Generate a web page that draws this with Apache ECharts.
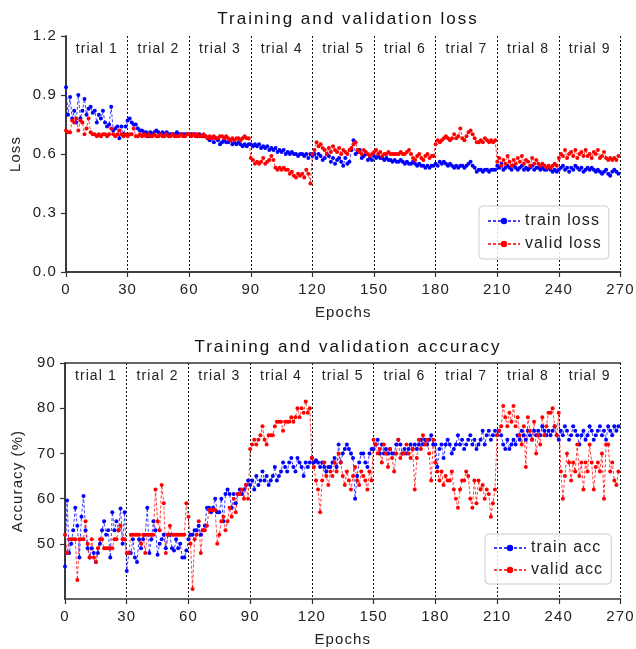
<!DOCTYPE html>
<html>
<head>
<meta charset="utf-8">
<script src="https://cdn.jsdelivr.net/npm/echarts@6/dist/echarts.min.js"></script>
<style>html,body{margin:0;padding:0;background:#fff}#c{width:636px;height:649px}</style>
</head>
<body>
<div id="c"></div>
<script>
const trialLabels = ["trial 1","trial 2","trial 3","trial 4","trial 5","trial 6","trial 7","trial 8","trial 9"];
const trialCenters = [15,45,75,105,135,165,195,225,255];
const lossTicks = [0, 0.3, 0.6, 0.9, 1.2];
const accTicks = [50, 60, 70, 80, 90];

const trainLoss = [].concat(
[0.94,0.80,0.89,0.78,0.82,0.76,0.90,0.78,0.82,0.88,0.80,0.83,0.84,0.81,0.82,0.76,0.80,0.78,0.82,0.76,0.74,0.75,0.84,0.72,0.73,0.74,0.68,0.74,0.70,0.74],
[0.77,0.78,0.76,0.75,0.75,0.73,0.72,0.72,0.71,0.71,0.69,0.71,0.70,0.71,0.72,0.71,0.70,0.71,0.70,0.71,0.70,0.70,0.70,0.70,0.71,0.70,0.70,0.70,0.70,0.70],
[0.70,0.70,0.70,0.70,0.69,0.70,0.69,0.69,0.69,0.68,0.67,0.68,0.66,0.68,0.67,0.65,0.66,0.67,0.66,0.66,0.67,0.65,0.66,0.65,0.66,0.65,0.64,0.65,0.64,0.65],
[0.65,0.64,0.65,0.64,0.65,0.63,0.64,0.63,0.64,0.62,0.63,0.62,0.63,0.61,0.62,0.61,0.62,0.60,0.61,0.60,0.61,0.60,0.60,0.59,0.60,0.60,0.59,0.60,0.58,0.60],
[0.59,0.60,0.58,0.60,0.59,0.57,0.58,0.60,0.59,0.56,0.58,0.55,0.57,0.58,0.56,0.54,0.58,0.55,0.56,0.62,0.67,0.60,0.61,0.62,0.58,0.59,0.60,0.57,0.58,0.57],
[0.59,0.58,0.59,0.58,0.58,0.57,0.58,0.57,0.57,0.56,0.57,0.56,0.56,0.57,0.56,0.55,0.56,0.55,0.55,0.56,0.55,0.54,0.55,0.54,0.54,0.53,0.54,0.53,0.54,0.54],
[0.55,0.54,0.56,0.55,0.56,0.55,0.54,0.55,0.54,0.53,0.54,0.53,0.54,0.54,0.53,0.54,0.55,0.56,0.54,0.53,0.51,0.52,0.52,0.51,0.52,0.52,0.51,0.52,0.52,0.52],
[0.54,0.53,0.55,0.52,0.53,0.54,0.53,0.52,0.54,0.53,0.52,0.53,0.54,0.52,0.53,0.52,0.53,0.54,0.52,0.53,0.53,0.52,0.53,0.52,0.52,0.53,0.52,0.51,0.52,0.51],
[0.52,0.53,0.54,0.52,0.53,0.51,0.53,0.52,0.54,0.53,0.52,0.53,0.51,0.52,0.53,0.52,0.53,0.52,0.51,0.52,0.51,0.50,0.51,0.52,0.50,0.49,0.51,0.52,0.51,0.50]
);
const validLoss = [].concat(
[0.72,0.71,0.71,0.77,0.76,0.78,0.72,0.77,0.76,0.70,0.73,0.78,0.71,0.70,0.70,0.69,0.70,0.69,0.70,0.70,0.69,0.70,0.73,0.70,0.69,0.70,0.72,0.70,0.69,0.70],
[0.69,0.70,0.70,0.73,0.69,0.69,0.70,0.69,0.70,0.69,0.70,0.69,0.69,0.70,0.69,0.69,0.70,0.69,0.69,0.70,0.69,0.69,0.70,0.69,0.69,0.69,0.70,0.69,0.69,0.70],
[0.70,0.69,0.70,0.69,0.70,0.69,0.69,0.70,0.69,0.68,0.69,0.68,0.69,0.68,0.68,0.69,0.69,0.68,0.69,0.68,0.67,0.68,0.67,0.68,0.68,0.67,0.68,0.69,0.68,0.68],
[0.58,0.57,0.55,0.56,0.55,0.56,0.58,0.55,0.56,0.57,0.59,0.57,0.53,0.52,0.53,0.52,0.53,0.52,0.52,0.50,0.51,0.49,0.48,0.50,0.49,0.50,0.48,0.52,0.50,0.45],
[0.60,0.62,0.66,0.64,0.65,0.63,0.62,0.60,0.63,0.61,0.64,0.62,0.61,0.63,0.60,0.62,0.61,0.60,0.62,0.63,0.65,0.66,0.62,0.61,0.60,0.62,0.61,0.60,0.59,0.60],
[0.61,0.62,0.60,0.61,0.59,0.60,0.60,0.61,0.60,0.60,0.60,0.60,0.60,0.61,0.60,0.60,0.61,0.62,0.60,0.58,0.57,0.59,0.60,0.58,0.57,0.59,0.60,0.58,0.59,0.59],
[0.65,0.67,0.66,0.67,0.68,0.69,0.68,0.67,0.68,0.70,0.68,0.69,0.73,0.68,0.67,0.69,0.71,0.72,0.70,0.68,0.66,0.66,0.67,0.66,0.68,0.67,0.66,0.67,0.66,0.67],
[0.56,0.58,0.54,0.57,0.55,0.59,0.56,0.54,0.57,0.55,0.58,0.56,0.59,0.55,0.57,0.56,0.54,0.58,0.55,0.57,0.55,0.54,0.55,0.54,0.53,0.54,0.53,0.54,0.55,0.54],
[0.58,0.60,0.59,0.62,0.58,0.60,0.61,0.59,0.62,0.58,0.60,0.61,0.59,0.62,0.59,0.60,0.58,0.61,0.60,0.62,0.58,0.59,0.61,0.58,0.57,0.58,0.57,0.58,0.57,0.59]
);
const trainAcc = [].concat(
[45,59.6,48,50,53,58,54,47,56,60.6,53,49,47,49,48,46,48,50,53,55,52,53,47,57,53,55,53,57.8,50,57],
[44,48,48,51,47,46,51,49,51,52,58,48,51,55,53,47.6,50,51,52,49,52,52,49,48.5,51,49,50,47,47,48.5],
[51,52,52,53,53,54,52,53,54,58,58,57,58,60,57,57,60,55,61,62,61,58,61,59,61,62,61,62,63,64],
[63,64,62,65,63,64,66,64,65,63,64,65,67,64,65,66,68,67,66,68,69,67,66,69,68,67,65,68,67,68],
[69,68,68.5,68,67,68,67,66,67,67,68,69,67,72,68,70,71,72,71,70,69,60,65,68,70,70,68,67,70,71],
[71,72,73,70,72,70,71,70,71,70,70,72,73,72,70,71,70,71,72,71,72,71,72,73,72,73,72,73,74,72],
[72,67,71,72,69,72,73,72,70,71,72,74,72,73,71,72,73,74,72,73,71,72,73,75,72,74,75,73,74,75],
[74,75,74,72,71,73,71,72,73,72,74,73,75,74,73,75,74,73,75,74,75,74,76,75,74,75,74,75,76,74],
[73,75,74,76,75,73,74,76,75,74,72,74,75,73,74,76,75,73,74,75,76,74,75,73,76,75,74,76,75,76]
);
const validAcc = [].concat(
[52,48,51,51,51,51,42,51,51,51,55,50,47,51,47,46,49,51,51,49,49,49,49,49,51,51,53,54,51,51],
[48,48,52,52,52,52,52,50,52,48,52,52,52,52,62,55,53,63,59,48,52,54,52,52,52,52,52,52,52,59],
[56,50,40,51,52,55,48,53,53,54,57.5,57.5,57.5,57.5,50,52,55,56,53,55,58,56,60,57,61,61,62,60,63,60],
[71,72,73,72,73,74,76,73,72,74,74,74,76,77,77,77,75,77,77,77,78,77,78,80,78,80,79,81.5,79,80],
[69,67,64,62,57,64,68,65,63,66,65,68,66,70,68,65,63,66,64,62,65,67,64,63,66,65,64,62,66,64],
[73,72,70,71,68,72,70,67,71,69,66,70,73,69,70,70,72,70,69,71,62,69,73,71,74,72,73,70,64,73],
[68,66,64,66,63,65,64,64,66,62,60,58,62,64,64,66,65,60,58,64,59,64,62,63,60,62,61,56,59,62],
[74,75,76,80.5,78,76,79,77,80.5,76,78,74,72,76,67,78,75,73,77,70,74,72,78,74,76,79,79,80,76,74],
[79,66,60,65,70,68,64,68,66,72,65,68,62,68,66,72,68,62,67,68,66,70,60,72,72,66,68,64,63,66]
);

// wider glyph spacing, like the reference rendering
(function () {
  const P = CanvasRenderingContext2D.prototype;
  if (!('letterSpacing' in P)) return;
  const orig = P.fillText;
  P.fillText = function (t, x, y, w) {
    const prev = this.letterSpacing;
    const m = /(\d+(?:\.\d+)?)px/.exec(this.font);
    const size = m ? parseFloat(m[1]) : 12;
    this.letterSpacing = (size >= 17 ? 2 : 1.1) + 'px';
    if (w === undefined) orig.call(this, t, x, y); else orig.call(this, t, x, y, w);
    this.letterSpacing = prev;
  };
})();

const FONT = 'Liberation Sans, Arial, sans-serif';
const AX = '#333';
const toPts = a => a.map((v, i) => [i, v]);

function bottomX(gi) {
  return {
    type: 'value', gridIndex: gi, min: 0, max: 270, interval: 30,
    name: 'Epochs', nameLocation: 'middle', nameGap: 33,
    nameTextStyle: { fontFamily: FONT, fontSize: 15, color: '#222' },
    axisLine: { show: true, onZero: false, lineStyle: { color: AX, width: 1.5 } },
    axisTick: { show: true, length: 5, lineStyle: { color: AX, width: 1.2 } },
    axisLabel: { fontFamily: FONT, fontSize: 15, color: '#222', margin: 10 },
    splitLine: { show: true, lineStyle: { color: '#111', width: 1, type: [2, 2] } }
  };
}
function topX(gi) {
  return {
    type: 'value', gridIndex: gi, min: 0, max: 270, position: 'top',
    axisLine: { show: true, lineStyle: { color: AX, width: 1.5 } },
    axisTick: { show: false },
    splitLine: { show: false },
    axisLabel: {
      inside: true, margin: 6, fontFamily: FONT, fontSize: 14, color: '#222',
      customValues: trialCenters,
      formatter: v => trialLabels[trialCenters.indexOf(v)]
    }
  };
}
function seriesOf(name, data, color, xi, yi) {
  return {
    name, type: 'line', xAxisIndex: xi, yAxisIndex: yi, data: toPts(data),
    symbol: 'circle', symbolSize: 4, showSymbol: true,
    itemStyle: { color },
    lineStyle: { color, width: 1, type: [3, 2], opacity: 0.75 },
    animation: false, z: 3
  };
}

const chart = echarts.init(document.getElementById('c'), null, { renderer: 'canvas' });
chart.setOption({
  backgroundColor: '#fff',
  animation: false,
  textStyle: { fontFamily: FONT },
  title: [
    { text: 'Training and validation loss', left: 343, top: 6, textAlign: 'center',
      textStyle: { fontFamily: FONT, fontSize: 17, fontWeight: 'normal', color: '#111' } },
    { text: 'Training and validation accuracy', left: 343, top: 334, textAlign: 'center',
      textStyle: { fontFamily: FONT, fontSize: 17, fontWeight: 'normal', color: '#111' } }
  ],
  grid: [
    { left: 65, right: 14, top: 36, height: 236, show: false },
    { left: 65, right: 14, top: 363, height: 236, show: false }
  ],
  xAxis: [bottomX(0), topX(0), bottomX(1), topX(1)],
  yAxis: [
    { type: 'value', gridIndex: 0, min: 0, max: 1.2, interval: 0.3,
      name: 'Loss', nameLocation: 'middle', nameGap: 43, nameRotate: 90,
      nameTextStyle: { fontFamily: FONT, fontSize: 15, color: '#222' },
      axisLine: { show: true, lineStyle: { color: AX, width: 1.5 } },
      axisTick: { show: true, length: 5, lineStyle: { color: AX, width: 1.2 } },
      axisLabel: { fontFamily: FONT, fontSize: 15, color: '#222', margin: 9, formatter: v => v.toFixed(1) },
      splitLine: { show: false } },
    { type: 'value', gridIndex: 0, position: 'right', min: 0, max: 1.2,
      axisLine: { show: true, lineStyle: { color: AX, width: 1.5 } },
      axisTick: { show: false }, axisLabel: { show: false }, splitLine: { show: false } },
    { type: 'value', gridIndex: 1, min: 37.8, max: 90,
      name: 'Accuracy (%)', nameLocation: 'middle', nameGap: 40, nameRotate: 90,
      nameTextStyle: { fontFamily: FONT, fontSize: 15, color: '#222' },
      axisLine: { show: true, lineStyle: { color: AX, width: 1.5 } },
      axisTick: { show: true, length: 5, customValues: accTicks, lineStyle: { color: AX, width: 1.2 } },
      axisLabel: { fontFamily: FONT, fontSize: 15, color: '#222', margin: 9, customValues: accTicks },
      splitLine: { show: false } },
    { type: 'value', gridIndex: 1, position: 'right', min: 37.8, max: 90,
      axisLine: { show: true, lineStyle: { color: AX, width: 1.5 } },
      axisTick: { show: false }, axisLabel: { show: false }, splitLine: { show: false } }
  ],
  legend: [
    { data: ['train loss', 'valid loss'], orient: 'vertical', left: 479, top: 206,
      itemWidth: 32, itemHeight: 8, itemGap: 7, padding: [7, 18, 7, 8],
      backgroundColor: 'rgba(255,255,255,0.85)', borderColor: '#ccc', borderWidth: 1, borderRadius: 4,
      textStyle: { fontFamily: FONT, fontSize: 16, color: '#222' } },
    { data: ['train acc', 'valid acc'], orient: 'vertical', left: 485, top: 534,
      itemWidth: 32, itemHeight: 8, itemGap: 6, padding: [6, 18, 6, 8],
      backgroundColor: 'rgba(255,255,255,0.85)', borderColor: '#ccc', borderWidth: 1, borderRadius: 4,
      textStyle: { fontFamily: FONT, fontSize: 16, color: '#222' } }
  ],
  series: [
    seriesOf('train loss', trainLoss, '#0000ff', 0, 0),
    seriesOf('valid loss', validLoss, '#ff0000', 0, 0),
    seriesOf('train acc', trainAcc, '#0000ff', 2, 2),
    seriesOf('valid acc', validAcc, '#ff0000', 2, 2)
  ]
});
</script>
</body>
</html>
